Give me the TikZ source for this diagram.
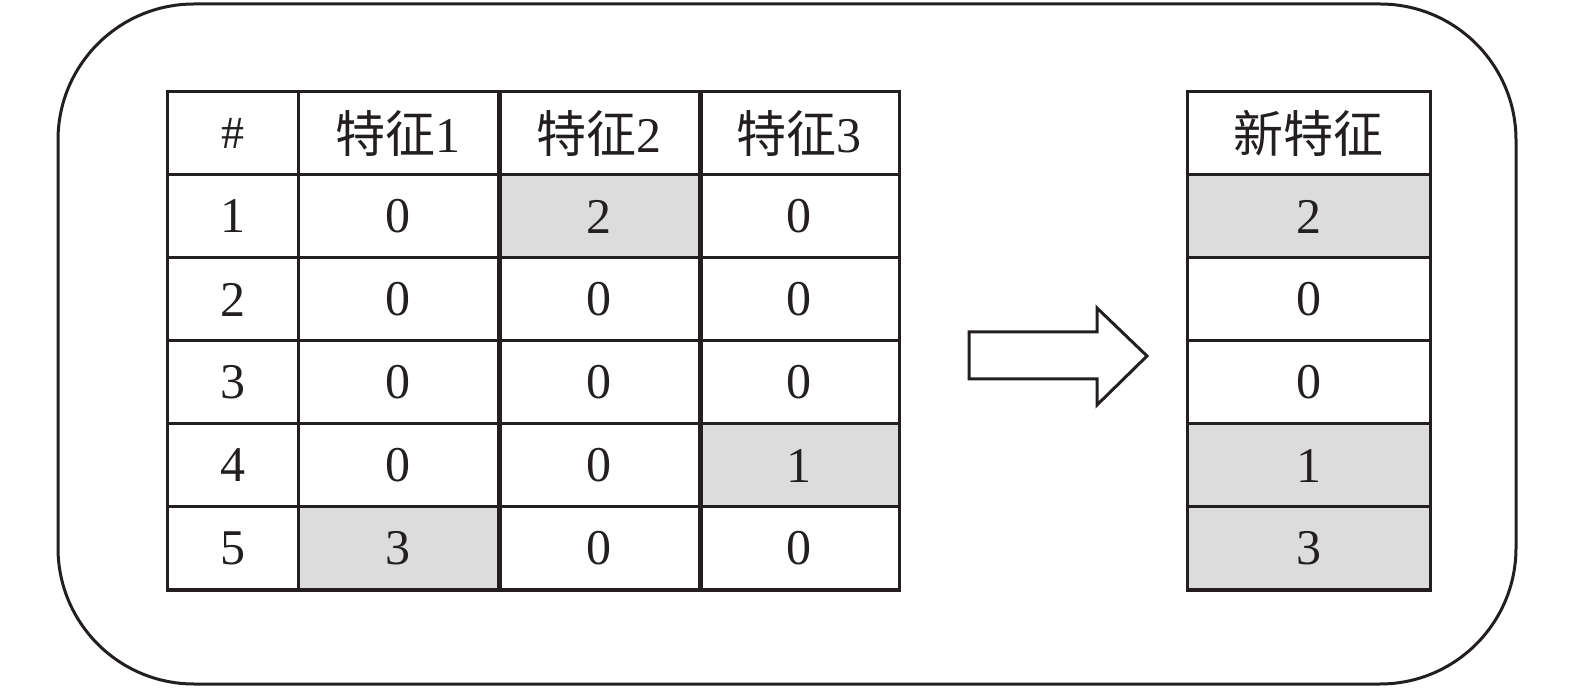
\documentclass[tikz,border=0pt]{standalone}
\usepackage{fontspec}
\setmainfont{Liberation Serif}
\newfontfamily\cjk{Noto Sans CJK SC}
\definecolor{ink}{HTML}{231F20}
\definecolor{shade}{HTML}{DCDCDC}
\begin{document}
\begin{tikzpicture}[x=0.5pt,y=-0.5pt,
  cell/.style={draw=ink, line width=1.5pt, rectangle, inner sep=0pt, minimum height=41.5pt, text=ink, font=\fontsize{25}{30}\selectfont},
  hl/.style={fill=shade},
  sep/.style={draw=ink, line width=2.4pt},
  outerbox/.style={draw=ink, line width=1.5pt, rounded corners=68pt},
  bigarrow/.style={draw=ink, line width=1.5pt, line join=miter, fill=white}
]
\useasboundingbox (0,0) rectangle (1575,689);
\draw[outerbox] (58,4) rectangle (1516,684);

% header row
\node[cell, minimum width=65.5pt, font=\fontsize{23}{26}\selectfont] (h0) at (232.5,133.5) {\#};
\node[cell, minimum width=100pt] (h1) at (398,133.5) {{\cjk 特征}1};
\node[cell, minimum width=100.5pt] (h2) at (598.5,133.5) {{\cjk 特征}2};
\node[cell, minimum width=100pt] (h3) at (799,133.5) {{\cjk 特征}3};
\node[cell, minimum width=121.5pt] (hn) at (1308.5,133.5) {\cjk 新特征};

% data rows
\foreach \r/\a/\b/\c/\sa/\sb/\sc [count=\i] in {
  1/0/2/0/{}/hl/{},
  2/0/0/0/{}/{}/{},
  3/0/0/0/{}/{}/{},
  4/0/0/1/{}/{}/hl,
  5/3/0/0/hl/{}/{}}{
  \pgfmathsetmacro\yy{92+83*\i+41.5}
  \node[cell, minimum width=65.5pt] (r\i c0) at (232.5,\yy) {\r};
  \node[cell, minimum width=100pt, \sa] (r\i c1) at (398,\yy) {\a};
  \node[cell, minimum width=100.5pt, \sb] (r\i c2) at (598.5,\yy) {\b};
  \node[cell, minimum width=100pt, \sc] (r\i c3) at (799,\yy) {\c};
}
\node[cell, minimum width=121.5pt, hl] (n1) at (1308.5,216.5) {2};
\node[cell, minimum width=121.5pt] (n2) at (1308.5,299.5) {0};
\node[cell, minimum width=121.5pt] (n3) at (1308.5,382.5) {0};
\node[cell, minimum width=121.5pt, hl] (n4) at (1308.5,465.5) {1};
\node[cell, minimum width=121.5pt, hl] (n5) at (1308.5,548.5) {3};

% thicker joins between the feature columns
\draw[sep] (h1.north east) -- (r5c1.south east);
\draw[sep] (h2.north east) -- (r5c2.south east);

% transformation arrow
\draw[bigarrow] (969,332) -- (1097,332) -- (1097,308) -- (1147,356)
  -- (1097,405) -- (1097,379) -- (969,379) -- cycle;
\end{tikzpicture}
\end{document}
